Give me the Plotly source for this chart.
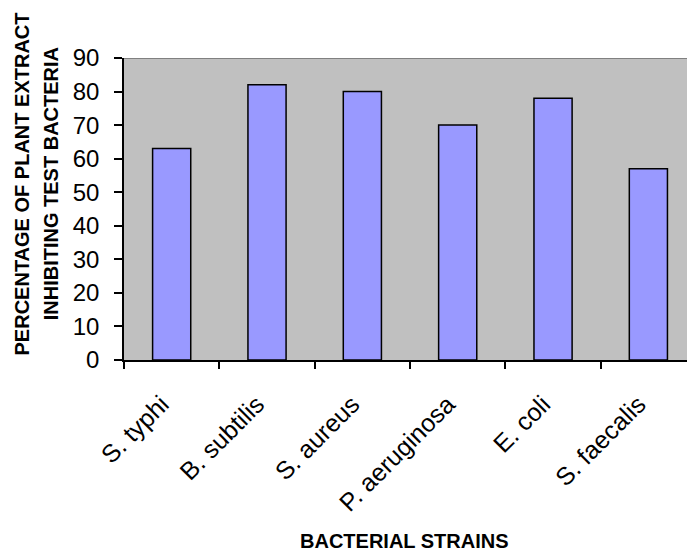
import plotly.graph_objects as go

# Bacterial strains tested and the share of plant extracts inhibiting each
strains = ["S. typhi", "B. subtilis", "S. aureus", "P. aeruginosa", "E. coli", "S. faecalis"]
percent_inhibiting = [63, 82, 80, 70, 78, 57]
y_ticks = [0, 10, 20, 30, 40, 50, 60, 70, 80, 90]

FONT = "Arial, Liberation Sans, sans-serif"

fig = go.Figure(
    go.Bar(
        x=strains,
        y=percent_inhibiting,
        width=0.4,
        marker=dict(color="#9999FF", line=dict(color="black", width=1.5)),
    )
)

fig.update_layout(
    width=687,
    height=554,
    margin=dict(l=124, r=0, t=58, b=194),
    paper_bgcolor="white",
    plot_bgcolor="#C0C0C0",
    showlegend=False,
    font=dict(family=FONT, color="black"),
)

fig.update_xaxes(
    type="category",
    range=[-0.5, 5.405],
    tickson="boundaries",
    ticks="outside",
    ticklen=7,
    tickwidth=1.5,
    tickcolor="black",
    tickangle=-45,
    tickfont=dict(size=25),
    ticklabelstandoff=18,
    ticklabelshift=-10,
    showline=True,
    linecolor="black",
    linewidth=1.5,
    showgrid=False,
)

fig.update_yaxes(
    range=[0, 90],
    tickvals=y_ticks,
    ticks="outside",
    ticklen=8,
    tickwidth=1.5,
    tickcolor="black",
    tickfont=dict(size=24),
    ticklabelstandoff=10,
    showline=True,
    linecolor="black",
    linewidth=1.5,
    showgrid=False,
    zeroline=False,
)

# Grey frame line along the top of the plot area
fig.add_shape(
    type="line", xref="paper", yref="y", x0=0, x1=1, y0=90, y1=90,
    line=dict(color="#808080", width=2),
)

title_font = dict(size=20, family=FONT, weight="bold")

# Two-line vertical axis title
for line_text, xpos in [("PERCENTAGE OF PLANT EXTRACT", -0.182),
                        ("INHIBITING TEST BACTERIA", -0.129)]:
    fig.add_annotation(
        text=line_text,
        xref="paper", yref="paper", x=xpos, y=0.583,
        xanchor="center", yanchor="middle", textangle=-90,
        showarrow=False, font=title_font,
    )

fig.add_annotation(
    text="BACTERIAL STRAINS",
    xref="paper", yref="paper", x=0.499, y=-0.599,
    xanchor="center", yanchor="middle",
    showarrow=False, font=title_font,
)

fig.write_html("out.html")
